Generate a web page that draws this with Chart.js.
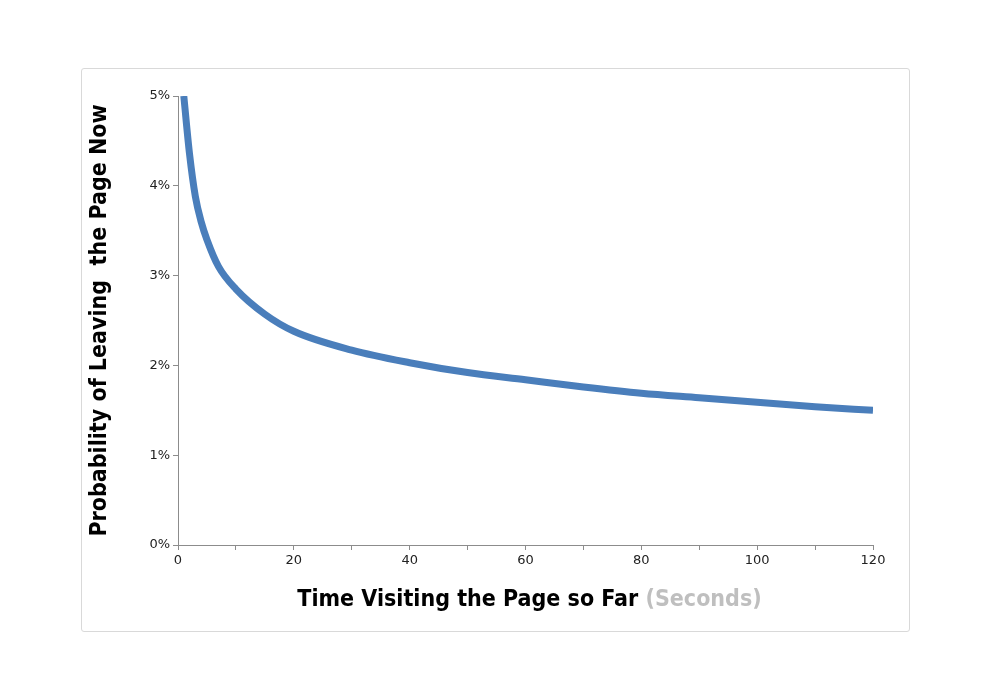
<!DOCTYPE html>
<html>
<head>
<script src="https://cdn.jsdelivr.net/npm/chart.js"></script>
<style>
  body { margin: 0; background: #fff; }
  #frame { position: absolute; left: 81px; top: 68px; width: 827px; height: 562px;
           border: 1px solid #d9d9d9; border-radius: 3px; }
</style>
</head>
<body>
<div id="frame"><canvas id="c" width="827" height="562"></canvas></div>
<script>
// values (seconds, probability %)
const seconds = [1, 2, 3, 4, 5, 7, 10, 15, 20, 30, 40, 50, 60, 70, 80, 90, 100, 110, 120];
const leaveProb = [5.0, 4.35, 3.88, 3.6, 3.4, 3.1, 2.85, 2.57, 2.38, 2.17, 2.03, 1.92, 1.84, 1.76, 1.69, 1.64, 1.59, 1.54, 1.5];
const yTicks = [0, 1, 2, 3, 4, 5];

const titleFont = '"Liberation Sans Narrow", "DejaVu Sans Condensed", sans-serif';

const xTitle = {
  id: 'xTitle',
  afterDraw(chart) {
    const ctx = chart.ctx;
    const a = chart.chartArea;
    ctx.save();
    ctx.font = 'bold 23px ' + titleFont;
    ctx.textBaseline = 'middle';
    const p1 = 'Time Visiting the Page so Far ', p2 = '(Seconds)';
    const w = ctx.measureText(p1 + p2).width;
    let x = (a.left + a.right) / 2 - w / 2 + 4;
    const y = a.bottom + 55;
    ctx.fillStyle = '#000';
    ctx.fillText(p1, x, y);
    ctx.fillStyle = '#bfbfbf';
    ctx.fillText(p2, x + ctx.measureText(p1).width, y);
    ctx.restore();
  }
};

new Chart(document.getElementById('c'), {
  type: 'line',
  data: {
    datasets: [{
      data: seconds.map((s, i) => ({ x: s, y: leaveProb[i] })),
      borderColor: '#4a7ebb',
      borderWidth: 7,
      pointRadius: 0,
      cubicInterpolationMode: 'monotone',
      fill: false
    }]
  },
  options: {
    responsive: false,
    animation: false,
    layout: { padding: { top: 27, right: 36, left: 0, bottom: 0 } },
    plugins: { legend: { display: false }, tooltip: { enabled: false } },
    scales: {
      x: {
        type: 'linear', min: 0, max: 120,
        afterFit(s) { s.height = 86; },
        grid: { drawOnChartArea: false, tickLength: 5, color: '#8c8c8c' },
        border: { color: '#8c8c8c' },
        ticks: {
          stepSize: 10, autoSkip: false, maxRotation: 0, color: '#222',
          font: { family: 'DejaVu Sans', size: 13 },
          callback: v => (v % 20 === 0 ? v : '')
        }
      },
      y: {
        min: 0, max: 5,
        afterFit(s) { s.width = 96; },
        afterBuildTicks(s) { s.ticks = yTicks.map(v => ({ value: v })); },
        grid: { drawOnChartArea: false, tickLength: 5, color: '#8c8c8c' },
        border: { color: '#8c8c8c' },
        ticks: {
          color: '#222', font: { family: 'DejaVu Sans', size: 13 },
          callback: v => v + '%'
        },
        title: {
          display: true, text: 'Probability of Leaving  the Page Now', color: '#000',
          font: { family: titleFont, size: 23, weight: 'bold' }, padding: { bottom: 6 }
        }
      }
    }
  },
  plugins: [xTitle]
});
</script>
</body>
</html>
